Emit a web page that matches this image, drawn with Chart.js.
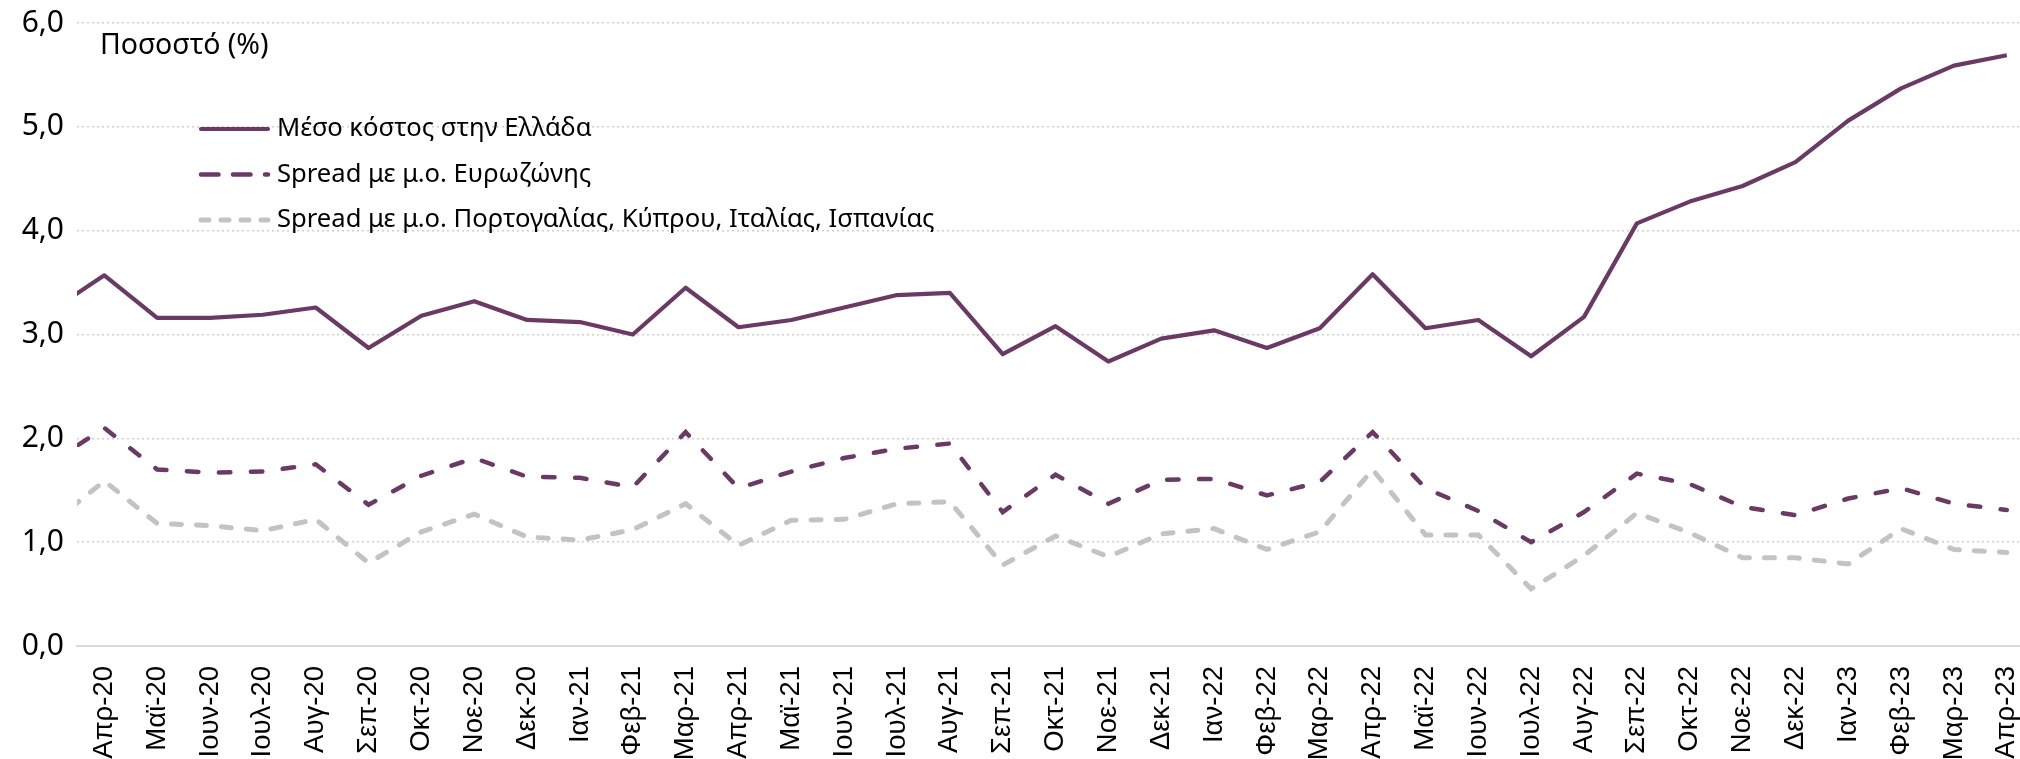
<!DOCTYPE html>
<html><head><meta charset="utf-8">
<script src="https://cdn.jsdelivr.net/npm/chart.js@4.4.1/dist/chart.umd.min.js"></script>
<style>html,body{margin:0;padding:0;background:#fff;} #c{display:block;}</style>
</head><body>
<canvas id="c" width="2020" height="759"></canvas>
<script>
// ---- data ----
const categories = ['Μαρ-20','Απρ-20','Μαϊ-20','Ιουν-20','Ιουλ-20','Αυγ-20','Σεπ-20','Οκτ-20','Νοε-20','Δεκ-20',
  'Ιαν-21','Φεβ-21','Μαρ-21','Απρ-21','Μαϊ-21','Ιουν-21','Ιουλ-21','Αυγ-21','Σεπ-21','Οκτ-21','Νοε-21','Δεκ-21',
  'Ιαν-22','Φεβ-22','Μαρ-22','Απρ-22','Μαϊ-22','Ιουν-22','Ιουλ-22','Αυγ-22','Σεπ-22','Οκτ-22','Νοε-22','Δεκ-22',
  'Ιαν-23','Φεβ-23','Μαρ-23','Απρ-23'];
const seriesNames = ['Μέσο κόστος στην Ελλάδα','Spread με μ.ο. Ευρωζώνης','Spread με μ.ο. Πορτογαλίας, Κύπρου, Ιταλίας, Ισπανίας'];
const avgCostGreece = [3.23,3.57,3.16,3.16,3.19,3.26,2.87,3.18,3.32,3.14,
  3.12,3.00,3.45,3.07,3.14,3.26,3.38,3.40,2.81,3.08,2.74,2.96,
  3.04,2.87,3.06,3.58,3.06,3.14,2.79,3.17,4.07,4.28,4.43,4.66,
  5.06,5.37,5.59,5.69];
const spreadEurozone = [1.77,2.10,1.70,1.67,1.68,1.75,1.36,1.64,1.81,1.63,
  1.62,1.53,2.06,1.52,1.68,1.81,1.90,1.95,1.29,1.65,1.37,1.60,
  1.61,1.45,1.58,2.06,1.52,1.30,1.00,1.29,1.66,1.56,1.34,1.26,
  1.42,1.52,1.37,1.31];
const spreadSouth = [1.18,1.59,1.18,1.16,1.11,1.22,0.80,1.10,1.27,1.05,
  1.02,1.12,1.37,0.97,1.21,1.22,1.37,1.39,0.78,1.06,0.86,1.08,
  1.13,0.93,1.10,1.70,1.07,1.07,0.55,0.87,1.28,1.09,0.85,0.85,
  0.79,1.13,0.93,0.90];
const yTicks = [0,1,2,3,4,5,6];
const axisTitle = 'Ποσοστό (%)';

// ---- styles ----
const PURPLE = '#6A3A65', GREY = '#C3C3C3';
const legendDash = [[], [17.5,14.5], [8,12]];

const toXY = arr => arr.map((v,i)=>({x:i, y:v}));

const legendPlugin = {
  id:'customLegend',
  afterDraw(chart){
    const ctx = chart.ctx;
    ctx.save();
    ctx.fillStyle = '#000';
    ctx.textBaseline = 'middle';
    ctx.textAlign = 'left';
    ctx.font = '28.5px "Noto Sans"';
    ctx.fillText(axisTitle, 100, 46);
    chart.data.datasets.forEach((ds,i)=>{
      const y = 129 + i*45.5;
      ctx.strokeStyle = ds.borderColor;
      ctx.lineWidth = ds.borderWidth;
      ctx.lineCap = 'round';
      ctx.setLineDash(legendDash[i]);
      ctx.beginPath(); ctx.moveTo(201, y); ctx.lineTo(268, y); ctx.stroke();
      ctx.setLineDash([]);
      ctx.font = '25.6px "Noto Sans"';
      ctx.fillText(ds.label, 277, y);
    });
    ctx.restore();
  }
};

new Chart(document.getElementById('c'), {
  type:'line',
  data:{
    datasets:[
      {label:seriesNames[0], data:toXY(avgCostGreece), borderColor:PURPLE, borderWidth:4.2, pointRadius:0, tension:0, clip:0, borderJoinStyle:'round'},
      {label:seriesNames[1], data:toXY(spreadEurozone), borderColor:PURPLE, borderWidth:4.5, borderDash:[11.5,20.5], borderCapStyle:'round', pointRadius:0, tension:0, clip:0},
      {label:seriesNames[2], data:toXY(spreadSouth), borderColor:GREY, borderWidth:5, borderDash:[10,15], borderCapStyle:'round', pointRadius:0, tension:0, clip:0}
    ]
  },
  options:{
    responsive:false, animation:false, devicePixelRatio:1,
    layout:{padding:{top:23,right:0,bottom:0,left:0}},
    plugins:{legend:{display:false}, tooltip:{enabled:false}},
    scales:{
      x:{
        type:'linear', min:0.483, max:37.25,
        grid:{display:false, drawTicks:false},
        border:{display:true, color:'#D9D9D9', width:2},
        ticks:{stepSize:1, includeBounds:false, autoSkip:false, maxRotation:90, minRotation:90, padding:20, color:'#000',
          font:{family:'"Liberation Sans", Arial, sans-serif', size:27.5},
          callback:v => Number.isInteger(v) ? categories[v] : ''},
        afterFit:s => { s.height = 113; s.paddingLeft = 0; s.paddingRight = 0; }
      },
      y:{
        min:yTicks[0], max:yTicks[yTicks.length-1],
        afterBuildTicks:s => { s.ticks = yTicks.map(v=>({value:v})); },
        ticks:{padding:13, color:'#000', font:{family:'"Noto Sans", sans-serif', size:30},
          callback:v => v.toFixed(1).replace('.',',')},
        grid:{color:'#D0D0D0', lineWidth:1.5, drawTicks:false},
        border:{display:false, dash:[2,3]},
        afterFit:s => { s.width = 77; s.paddingTop = 0; s.paddingBottom = 0; }
      }
    }
  },
  plugins:[legendPlugin]
});
</script>
</body></html>
